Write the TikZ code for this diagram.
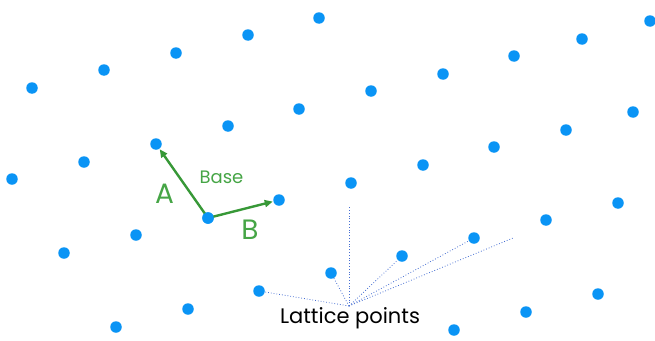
\documentclass[tikz,border=0pt]{standalone}
\usepackage{fontspec}
\setmainfont{Poppins}
\usetikzlibrary{arrows.meta}
\definecolor{dotblue}{RGB}{10,148,245}
\definecolor{basegreen}{RGB}{55,152,55}
\definecolor{labgreen}{RGB}{70,165,70}
\definecolor{lineblue}{RGB}{70,110,210}
\tikzset{
  pt/.style={circle,fill=dotblue,inner sep=0pt,minimum size=11.5pt},
  vec/.style={draw=basegreen,line width=2.4pt,-{Triangle[length=8pt,width=7pt]},shorten >=0.5pt},
  guide/.style={draw=lineblue,line width=0.8pt,dotted},
  lab/.style={text=labgreen,anchor=base,inner sep=0pt}
}
\begin{document}
\begin{tikzpicture}[x=1pt,y=-1pt]
\useasboundingbox (0,0) rectangle (655,340);
\coordinate (hub) at (349,306);
\coordinate (e1) at (349,206);
\coordinate (e2) at (513,238);
% row 1
\node[pt] (r1a) at (32,88) {};
\node[pt] (r1b) at (104,70) {};
\node[pt] (r1c) at (176,53) {};
\node[pt] (r1d) at (248,35) {};
\node[pt] (r1e) at (319,18) {};
% row 2
\node[pt] (r2a) at (12,179) {};
\node[pt] (r2b) at (84,162) {};
\node[pt] (a) at (156,144) {};
\node[pt] (r2d) at (228,126) {};
\node[pt] (r2e) at (299,109) {};
\node[pt] (r2f) at (371,91) {};
\node[pt] (r2g) at (443,74) {};
\node[pt] (r2h) at (514,56) {};
\node[pt] (r2i) at (582,39) {};
\node[pt] (r2j) at (650,21) {};
% row 3
\node[pt] (r3a) at (64,253) {};
\node[pt] (r3b) at (136,235) {};
\node[pt] (o) at (208,218) {};
\node[pt] (b) at (279,200) {};
\node[pt] (r3e) at (351,183) {};
\node[pt] (r3f) at (423,165) {};
\node[pt] (r3g) at (494,147) {};
\node[pt] (r3h) at (566,130) {};
\node[pt] (r3i) at (633,112) {};
% row 4
\node[pt] (r4a) at (116,327) {};
\node[pt] (r4b) at (188,309) {};
\node[pt] (l1) at (259,291) {};
\node[pt] (l2) at (331,273) {};
\node[pt] (l3) at (402,256) {};
\node[pt] (l4) at (474,238) {};
\node[pt] (r4g) at (546,220) {};
\node[pt] (r4h) at (618,203) {};
% row 5
\node[pt] (r5a) at (454,330) {};
\node[pt] (r5b) at (526,312) {};
\node[pt] (r5c) at (598,294) {};
% guides
\draw[guide] (hub) -- (l1);
\draw[guide] (hub) -- (l2);
\draw[guide] (hub) -- (e1);
\draw[guide] (hub) -- (l3);
\draw[guide] (hub) -- (l4);
\draw[guide] (hub) -- (e2);
% base vectors
\draw[vec] (o.center) -- (a);
\draw[vec] (o.center) -- (b);
\node[pt] at (o) {};
% labels
\node[lab,font=\fontsize{18}{18}\selectfont] (base) at (221.5,183) {Base};
\node[lab,font=\fontsize{28}{28}\selectfont] (la) at (164.5,203) {A};
\node[lab,font=\fontsize{28}{28}\selectfont] (lb) at (250,239) {B};
\node[anchor=base,inner sep=0pt,font=\fontsize{21}{21}\selectfont] (lp) at (350,323) {Lattice points};
\end{tikzpicture}
\end{document}
